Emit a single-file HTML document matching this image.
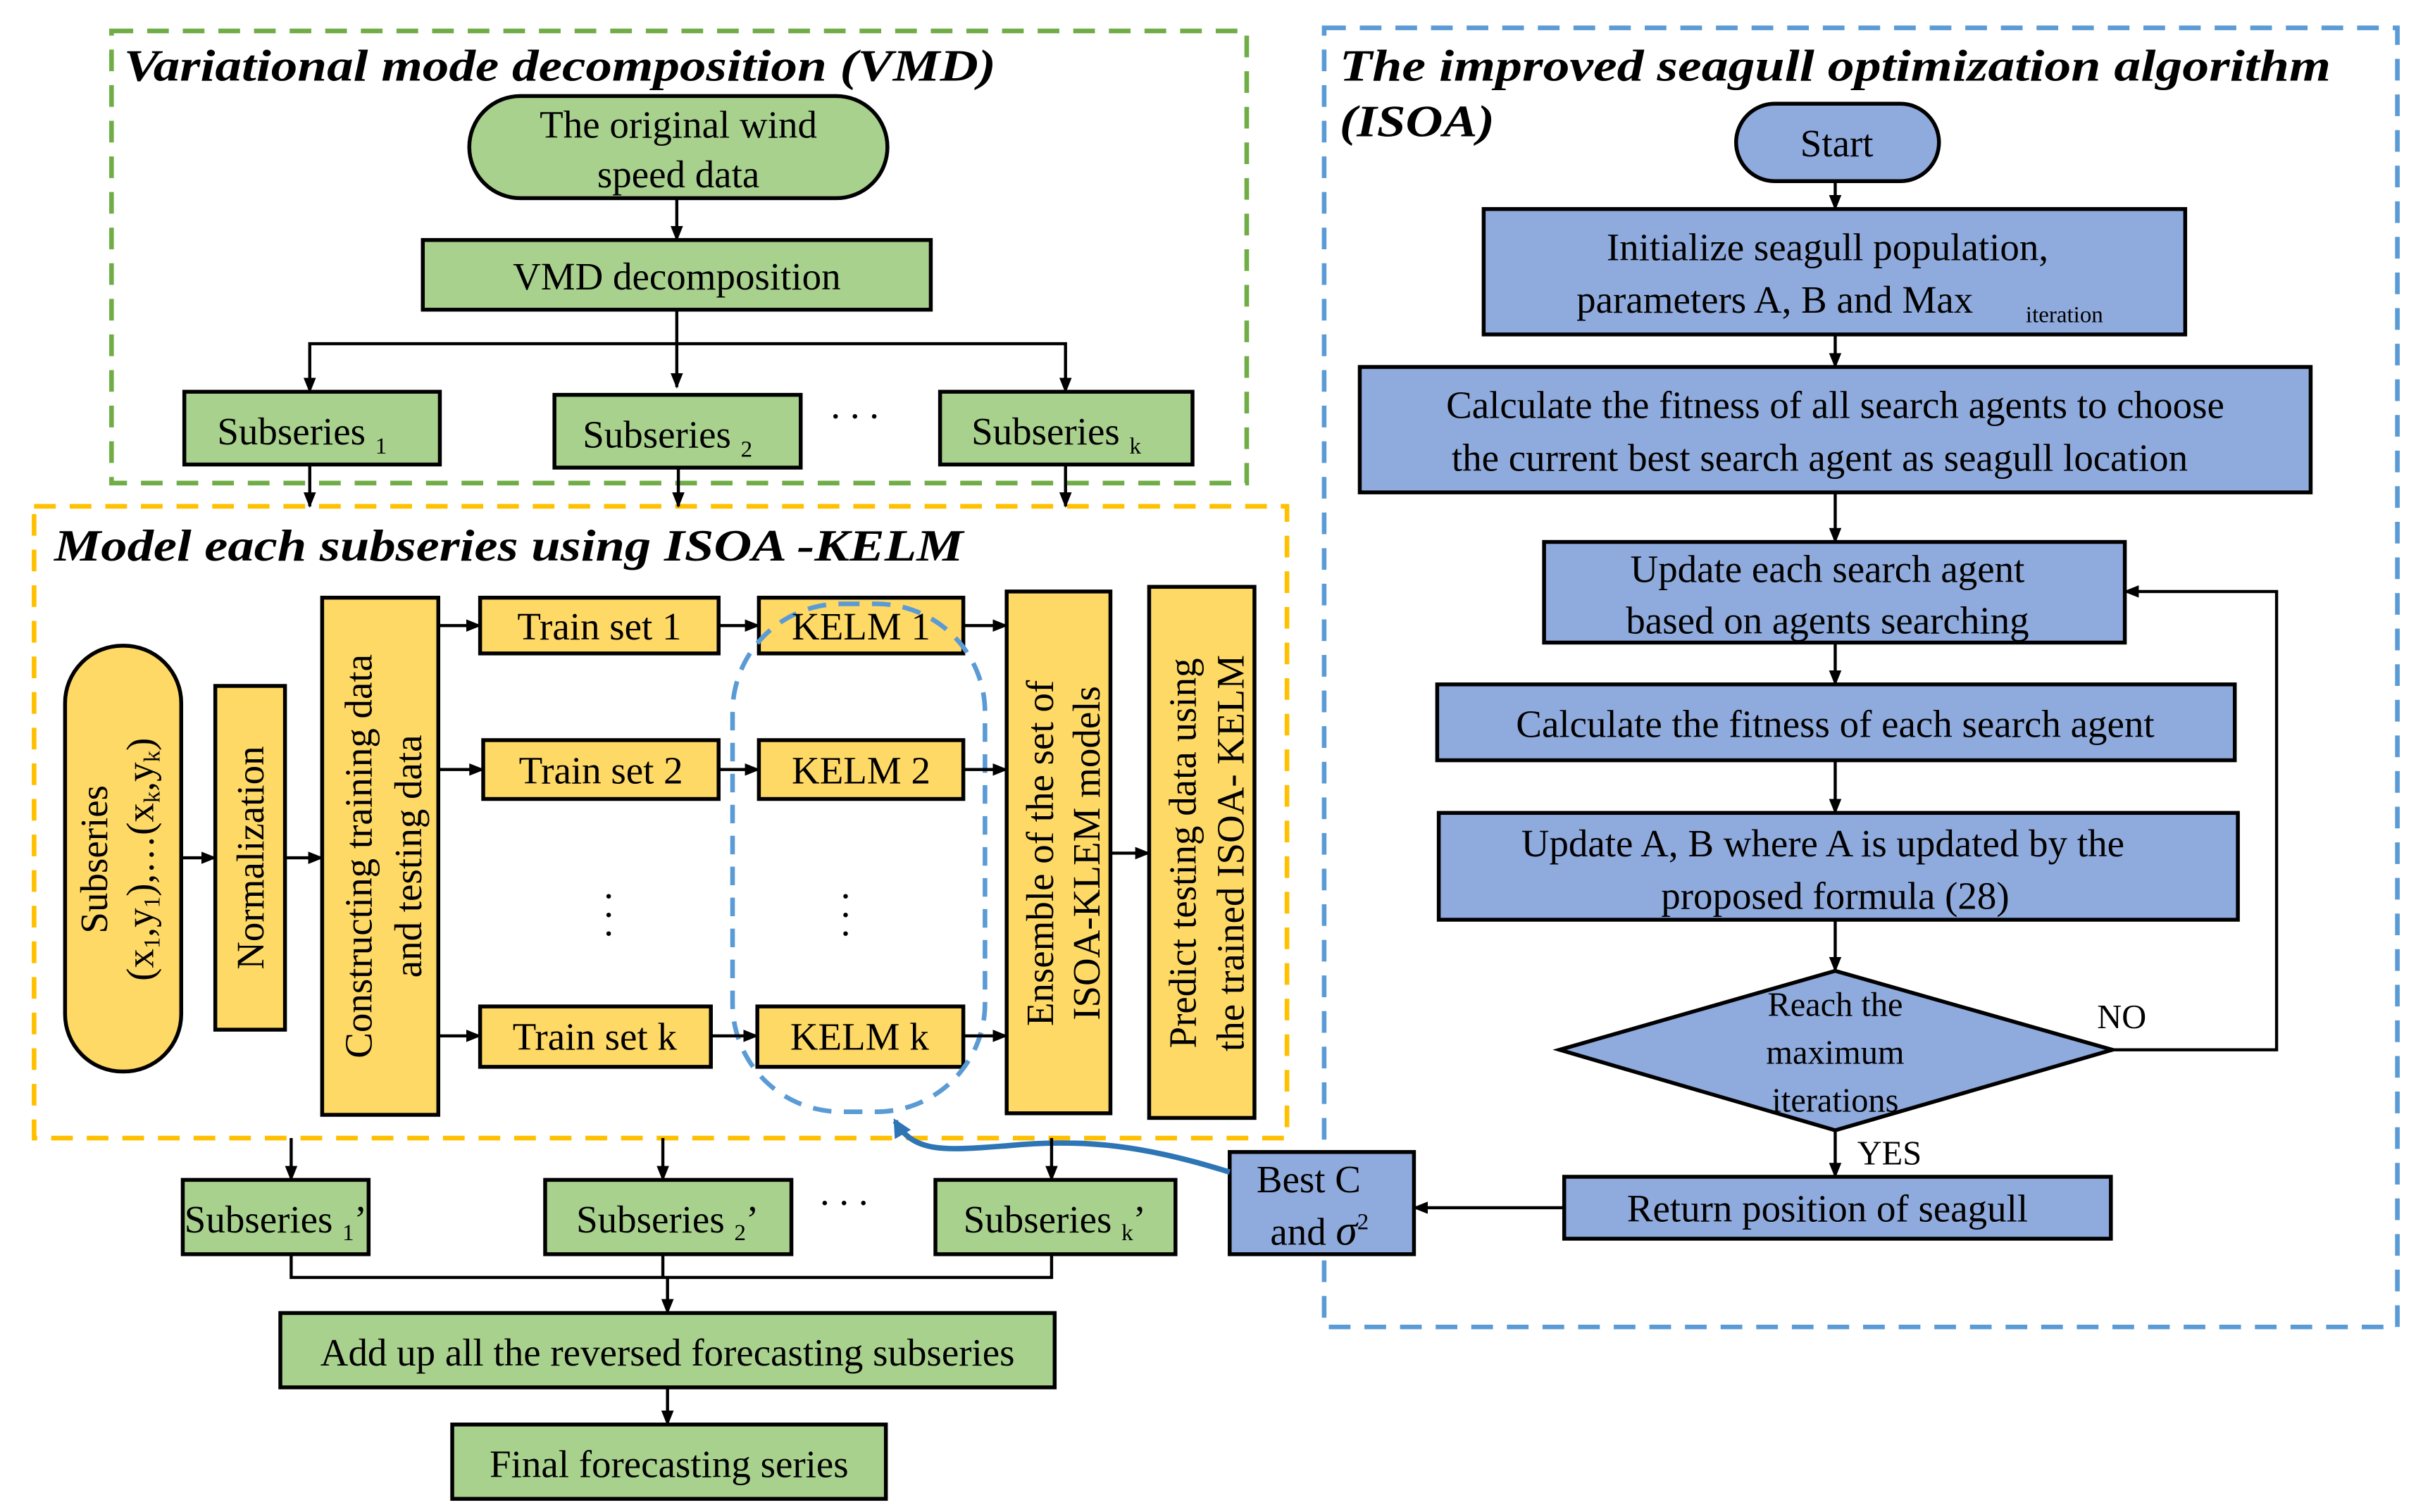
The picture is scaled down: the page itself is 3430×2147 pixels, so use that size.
<!DOCTYPE html>
<html><head><meta charset="utf-8"><style>
html,body{margin:0;padding:0;background:#fff}
svg{display:block}
text{font-family:"Liberation Serif",serif;fill:#000}
</style></head><body>
<svg width="3430" height="2147" viewBox="0 0 1560 976.5" xmlns="http://www.w3.org/2000/svg">
<defs>
<marker id="a" markerWidth="10" markerHeight="10" refX="9" refY="5" orient="auto" markerUnits="userSpaceOnUse"><path d="M0,1 L10,5 L0,9 z" fill="#000"/></marker>
<marker id="b" markerWidth="14" markerHeight="14" refX="10" refY="7" orient="auto" markerUnits="userSpaceOnUse"><path d="M0,1 L12,7 L0,13 z" fill="#2e75b6"/></marker>
</defs>
<g fill="none" stroke-width="3" stroke-dasharray="14,9">
<rect x="72" y="20" width="733" height="292" stroke="#70ad47"/>
<rect x="22" y="327" width="809" height="408" stroke="#ffc000"/>
<rect x="855" y="18" width="693" height="839" stroke="#5b9bd5"/>
</g>
<g font-style="italic" font-weight="bold" font-size="29">
<text x="80" y="52" textLength="563" lengthAdjust="spacingAndGlyphs">Variational mode decomposition (VMD)</text>
<text x="35" y="362" textLength="587" lengthAdjust="spacingAndGlyphs">Model each subseries using ISOA -KELM</text>
<text x="865" y="52" textLength="640" lengthAdjust="spacingAndGlyphs">The improved seagull optimization algorithm</text>
<text x="865" y="88" textLength="100" lengthAdjust="spacingAndGlyphs">(ISOA)</text>
</g>
<g stroke="#000" stroke-width="2.5" fill="#a9d18e">
<rect x="303" y="62" width="270" height="66" rx="33"/>
<rect x="273" y="155" width="328" height="45"/>
<rect x="119" y="253" width="165" height="47"/>
<rect x="358" y="255" width="159" height="47"/>
<rect x="607" y="253" width="163" height="47"/>
<rect x="118" y="762" width="120" height="48"/>
<rect x="352" y="762" width="159" height="48"/>
<rect x="604" y="762" width="155" height="48"/>
<rect x="181" y="848" width="500" height="48"/>
<rect x="292" y="920" width="280" height="48"/>
</g>
<g stroke="#000" stroke-width="2.5" fill="#ffd966">
<rect x="42" y="417" width="75" height="275" rx="37"/>
<rect x="139" y="443" width="45" height="222"/>
<rect x="208" y="386" width="75" height="334"/>
<rect x="310" y="386" width="154" height="36"/>
<rect x="312" y="478" width="152" height="38"/>
<rect x="310" y="650" width="149" height="39"/>
<rect x="490" y="386" width="132" height="36"/>
<rect x="490" y="478" width="132" height="38"/>
<rect x="489" y="650" width="133" height="39"/>
<rect x="650" y="382" width="67" height="337"/>
<rect x="742" y="379" width="68" height="343"/>
</g>
<g stroke="#000" stroke-width="2.5" fill="#8faadc">
<rect x="1121" y="67" width="131" height="50" rx="25"/>
<rect x="958" y="135" width="453" height="81"/>
<rect x="878" y="237" width="614" height="81"/>
<rect x="997" y="350" width="375" height="65"/>
<rect x="928" y="442" width="515" height="49"/>
<rect x="929" y="525" width="516" height="69"/>
<polygon points="1007,678 1185,627 1364,678 1185,730"/>
<rect x="1010" y="760" width="353" height="40"/>
<rect x="794" y="744" width="119" height="66"/>
</g>
<rect x="473" y="390" width="163" height="328" rx="70" fill="none" stroke="#5b9bd5" stroke-width="3" stroke-dasharray="12,8"/>
<path d="M794,757 C740,740 700,735 650,740 C610,743 590,745 578,724" fill="none" stroke="#2e75b6" stroke-width="3.5" marker-end="url(#b)"/>
<g stroke="#000" stroke-width="2" fill="none" marker-end="url(#a)">
<path d="M437,128 V155"/>
<path d="M437,200 V250"/>
<path d="M437,222 H200 V253"/>
<path d="M437,222 H688 V253"/>
<path d="M200,300 V327"/>
<path d="M438,302 V327"/>
<path d="M688,300 V327"/>
<path d="M117,554 H139"/>
<path d="M184,554 H208"/>
<path d="M283,404 H310"/>
<path d="M283,497 H312"/>
<path d="M283,669 H310"/>
<path d="M464,404 H490"/>
<path d="M464,497 H490"/>
<path d="M459,669 H489"/>
<path d="M622,404 H650"/>
<path d="M622,497 H650"/>
<path d="M622,669 H650"/>
<path d="M717,551 H742"/>
<path d="M188,735 V762"/>
<path d="M428,735 V762"/>
<path d="M679,735 V762"/>
<path d="M431,825 V848"/>
<path d="M431,896 V920"/>
<path d="M1185,117 V135"/>
<path d="M1185,216 V237"/>
<path d="M1185,318 V350"/>
<path d="M1185,415 V442"/>
<path d="M1185,491 V525"/>
<path d="M1185,594 V627"/>
<path d="M1185,730 V760"/>
<path d="M1364,678 H1470 V382 H1372"/>
<path d="M1010,780 H913"/>
</g>
<path d="M188,810 V825 H679 V810 M428,810 V825" stroke="#000" stroke-width="2" fill="none"/>
<g font-size="25" text-anchor="middle">
<text x="438" y="89">The original wind</text>
<text x="438" y="121">speed data</text>
<text x="437" y="187">VMD decomposition</text>
<text x="195" y="287">Subseries <tspan font-size="15" dy="6">1</tspan></text>
<text x="431" y="289">Subseries <tspan font-size="15" dy="6">2</tspan></text>
<text x="682" y="287">Subseries <tspan font-size="15" dy="6">k</tspan></text>
<text x="552" y="270">. . .</text>
<text x="178" y="796">Subseries <tspan font-size="15" dy="5">1</tspan><tspan dy="-5">’</tspan></text>
<text x="431" y="796">Subseries <tspan font-size="15" dy="5">2</tspan><tspan dy="-5">’</tspan></text>
<text x="681" y="796">Subseries <tspan font-size="15" dy="5">k</tspan><tspan dy="-5">’</tspan></text>
<text x="545" y="778">. . .</text>
<text x="431" y="882">Add up all the reversed forecasting subseries</text>
<text x="432" y="954">Final forecasting series</text>
<text x="387" y="413">Train set 1</text>
<text x="388" y="506">Train set 2</text>
<text x="384" y="678">Train set k</text>
<text x="556" y="413">KELM 1</text>
<text x="556" y="506">KELM 2</text>
<text x="555" y="678">KELM k</text>
<text x="393" y="580">.</text><text x="393" y="592">.</text><text x="393" y="604">.</text>
<text x="546" y="580">.</text><text x="546" y="592">.</text><text x="546" y="604">.</text>
<text x="1186" y="101">Start</text>
<text x="1180" y="168">Initialize seagull population,</text>
<text x="1146" y="202">parameters A, B and Max</text>
<text x="1333" y="208" font-size="15">iteration</text>
<text x="1185" y="270">Calculate the fitness of all search agents to choose</text>
<text x="1175" y="304">the current best search agent as seagull location</text>
<text x="1180" y="376">Update each search agent</text>
<text x="1180" y="409">based on agents searching</text>
<text x="1185" y="476">Calculate the fitness of each search agent</text>
<text x="1177" y="553">Update A, B where A is updated by the</text>
<text x="1185" y="587">proposed formula (28)</text>
<text x="1185" y="656" font-size="22">Reach the</text>
<text x="1185" y="687" font-size="22">maximum</text>
<text x="1185" y="718" font-size="22">iterations</text>
<text x="1370" y="664" font-size="22">NO</text>
<text x="1220" y="752" font-size="22">YES</text>
<text x="1180" y="789">Return position of seagull</text>
<text x="845" y="770">Best C</text>
<text x="852" y="804">and <tspan font-style="italic" font-size="28">σ</tspan><tspan font-size="15" dy="-10">2</tspan></text>
</g>
<g font-size="25" text-anchor="middle">
<text transform="translate(75,555) rotate(-90)" y="-6">Subseries</text>
<text transform="translate(75,555) rotate(-90)" y="24">(x<tspan font-size="15" dy="4">1</tspan><tspan dy="-4">,y</tspan><tspan font-size="15" dy="4">1</tspan><tspan dy="-4">),…(x</tspan><tspan font-size="15" dy="4">k</tspan><tspan dy="-4">,y</tspan><tspan font-size="15" dy="4">k</tspan><tspan dy="-4">)</tspan></text>
<text transform="translate(170,554) rotate(-90)">Normalization</text>
<text transform="translate(240,553) rotate(-90)">Constructing training data</text>
<text transform="translate(272,553) rotate(-90)">and testing data</text>
<text transform="translate(680,551) rotate(-90)">Ensemble of the set of</text>
<text transform="translate(710,551) rotate(-90)">ISOA-KLEM models</text>
<text transform="translate(772,551) rotate(-90)">Predict testing data using</text>
<text transform="translate(803,551) rotate(-90)">the trained ISOA- KELM</text>
</g>
</svg>
</body></html>
